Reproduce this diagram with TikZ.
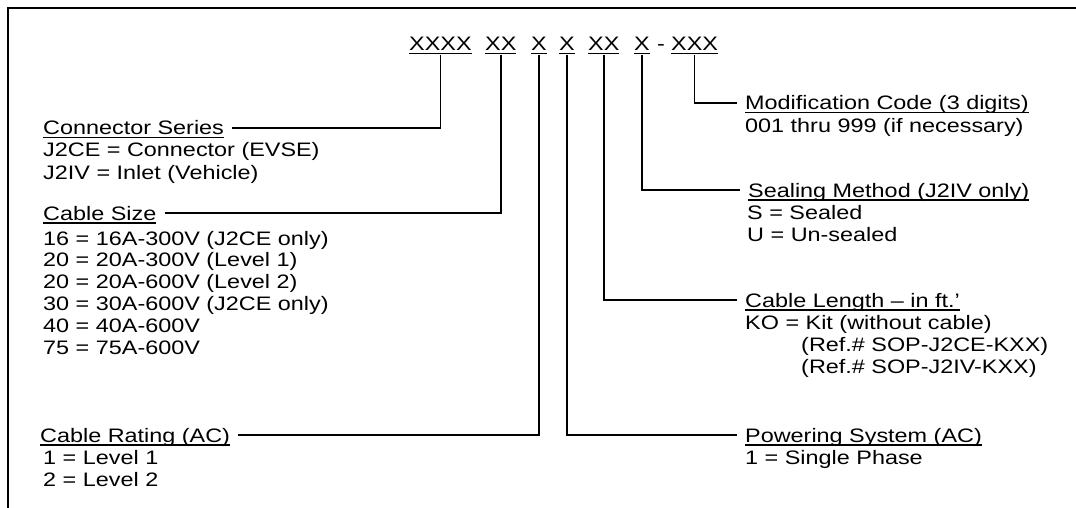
\documentclass[tikz,border=0pt]{standalone}
\usepackage{fontspec}
\setmainfont{Liberation Sans}[FakeStretch=1.2]
\newcommand\ulbox[1]{\setbox0\hbox{#1}\rlap{\rule[-3.5pt]{\wd0}{1.6pt}}\box0}
\begin{document}
\begin{tikzpicture}[x=1pt,y=-1pt,
  every node/.style={font=\fontsize{19.5}{22}\selectfont, inner sep=0pt},
  conn/.style={line width=1.5pt},
  frame/.style={line width=2.2pt},
  ttl/.style={text height=14pt, text depth=0pt, anchor=west},
  txt/.style={anchor=base west},
  seg/.style={anchor=base west}]
\useasboundingbox (0,0) rectangle (1076,508);
\draw[frame] (8,508) -- (8,8) -- (1076,8);
% code
\node[seg] (c1) at (409,51) {\ulbox{XXXX}};
\node[seg] (c2) at (485,51) {\ulbox{XX}};
\node[seg] (c3) at (531,51) {\ulbox{X}};
\node[seg] (c4) at (559,51) {\ulbox{X}};
\node[seg] (c5) at (588,51) {\ulbox{XX}};
\node[seg] (c6) at (634,51) {\ulbox{X}};
\node[anchor=base] (dash) at (661,51) {-};
\node[seg] (c7) at (671,51) {\ulbox{XXX}};
% left
\node[ttl] (cs) at (43,128) {\ulbox{Connector Series}};
\node[txt] (cs1) at (43,157) {J2CE = Connector (EVSE)};
\node[txt] (cs2) at (43,179) {J2IV = Inlet (Vehicle)};
\node[ttl] (sz) at (43,213) {\ulbox{Cable Size}};
\node[txt] (sz1) at (43,245) {16 = 16A-300V (J2CE only)};
\node[txt] (sz2) at (43,266.8) {20 = 20A-300V (Level 1)};
\node[txt] (sz3) at (43,288.6) {20 = 20A-600V (Level 2)};
\node[txt] (sz4) at (43,310.4) {30 = 30A-600V (J2CE only)};
\node[txt] (sz5) at (43,332.2) {40 = 40A-600V};
\node[txt] (sz6) at (43,354) {75 = 75A-600V};
\node[ttl] (cr) at (40,435) {\ulbox{Cable Rating (AC)}};
\node[txt] (cr1) at (43,464) {1 = Level 1};
\node[txt] (cr2) at (43,486) {2 = Level 2};
% right
\node[ttl] (mc) at (745,103) {\ulbox{Modification Code (3 digits)}};
\node[txt] (mc1) at (745,132) {001 thru 999 (if necessary)};
\node[ttl] (sm) at (748,190) {\ulbox{Sealing Method (J2IV only)}};
\node[txt] (sm1) at (747,219) {S = Sealed};
\node[txt] (sm2) at (747,241) {U = Un-sealed};
\node[ttl] (cl) at (745,300) {\ulbox{Cable Length – in ft.’}};
\node[txt] (cl1) at (745,329) {KO = Kit (without cable)};
\node[txt] (cl2) at (801,351) {(Ref.\# SOP-J2CE-KXX)};
\node[txt] (cl3) at (801,373) {(Ref.\# SOP-J2IV-KXX)};
\node[ttl] (ps) at (745,435) {\ulbox{Powering System (AC)}};
\node[txt] (ps1) at (745,464) {1 = Single Phase};
% connectors
\draw[conn] (c1.south) |- ([xshift=8pt]cs.east);
\draw[conn] (c2.south) |- ([xshift=8pt]sz.east);
\draw[conn] (c3.south) |- ([xshift=8pt]cr.east);
\draw[conn] (c4.south) |- ([xshift=-8pt]ps.west);
\draw[conn] (c5.south) |- ([xshift=-8pt]cl.west);
\draw[conn] (c6.south) |- ([xshift=-8pt]sm.west);
\draw[conn] (c7.south) |- ([xshift=-8pt]mc.west);
\end{tikzpicture}
\end{document}
